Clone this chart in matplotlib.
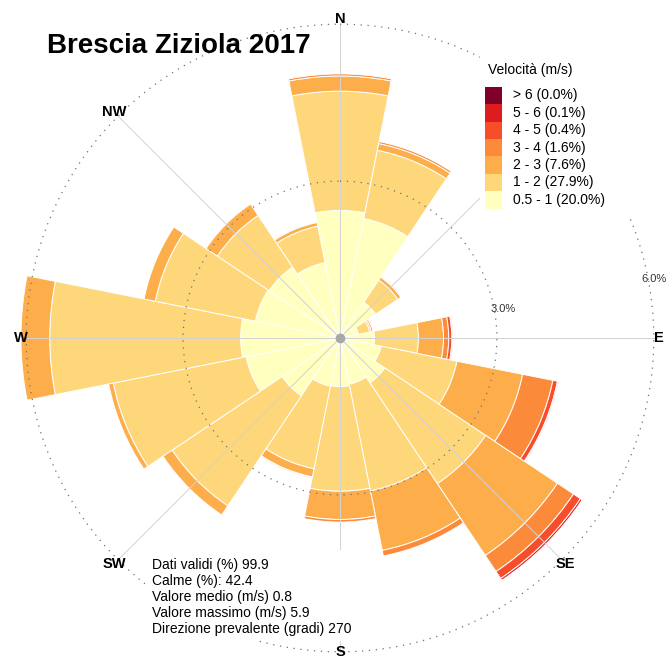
import numpy as np
import matplotlib.pyplot as plt
from matplotlib.patches import Rectangle

plt.rcParams['font.family'] = ['Liberation Sans', 'DejaVu Sans']

W_PX, H_PX = 671, 659

# 16 sectori di direzione (gradi dal nord, senso orario)
directions = ['N', 'NNE', 'NE', 'ENE', 'E', 'ESE', 'SE', 'SSE',
              'S', 'SSW', 'SW', 'WSW', 'W', 'WNW', 'NW', 'NNW']
dir_deg = np.arange(16) * 22.5

speed_bins = ['0.5 - 1', '1 - 2', '2 - 3', '3 - 4', '4 - 5', '5 - 6', '> 6']
bin_totals = [20.0, 27.9, 7.6, 1.6, 0.4, 0.1, 0.0]
bin_colors = ['#FFFFBF', '#FDD77A', '#FDAE4A', '#FB8A3A', '#F64D2B', '#DE1B1D', '#7F0028']

# frequenze (%) per classe di velocita', una voce per settore
freq_05_1 = [2.44, 2.33, 0.82, 0.36, 0.66, 0.80, 1.03, 0.90,
             0.93, 0.94, 1.33, 1.83, 1.90, 1.65, 1.63, 1.47]
freq_1_2 = [2.28, 1.33, 0.51, 0.22, 0.84, 1.48, 2.32, 2.08,
            2.00, 1.61, 2.53, 2.59, 3.65, 1.95, 1.19, 0.71]
freq_2_3 = [0.29, 0.13, 0.07, 0.03, 0.48, 1.28, 1.65, 1.16,
            0.54, 0.16, 0.21, 0.09, 0.55, 0.22, 0.26, 0.07]
freq_3_4 = [0.04, 0.04, 0.02, 0.03, 0.10, 0.59, 0.37, 0.11,
            0.05, 0.02, 0.00, 0.00, 0.00, 0.00, 0.00, 0.00]
freq_4_5 = [0.00, 0.00, 0.00, 0.00, 0.06, 0.09, 0.16, 0.00,
            0.00, 0.00, 0.00, 0.00, 0.00, 0.00, 0.00, 0.00]
freq_5_6 = [0.00, 0.00, 0.00, 0.00, 0.02, 0.02, 0.04, 0.00,
            0.00, 0.00, 0.00, 0.00, 0.00, 0.00, 0.00, 0.00]
freq_gt6 = [0.0] * 16

stats_labels = ['Dati validi (%)', 'Calme (%):', 'Valore medio (m/s)',
                'Valore massimo (m/s)', 'Direzione prevalente (gradi)']
stats_values = ['99.9', '42.4', '0.8', '5.9', '270']

# etichette cardinali visibili (NE resta sotto la legenda)
compass_labels = ['N', 'E', 'SE', 'S', 'SW', 'W', 'NW']

freqs = [freq_05_1, freq_1_2, freq_2_3, freq_3_4, freq_4_5, freq_5_6, freq_gt6]


def fx(px):
    return px / W_PX


def fy(py):
    return 1 - py / H_PX


fig = plt.figure(figsize=(W_PX / 100, H_PX / 100), dpi=100)

# rosa dei venti in assi polari
r_max = 6.5
rad_px = r_max * 52.3
cx, cy = 340, 338
ax = fig.add_axes([fx(cx - rad_px), fy(cy + rad_px), 2 * rad_px / W_PX, 2 * rad_px / H_PX],
                  projection='polar')
ax.set_theta_zero_location('N')
ax.set_theta_direction(-1)
ax.set_ylim(0, r_max)
ax.set_axis_off()

theta = np.deg2rad(dir_deg)
width = np.deg2rad(22.5)
bottom = np.zeros(16)
for vals, col in zip(freqs, bin_colors):
    vals = np.array(vals)
    m = vals > 0
    ax.bar(theta[m], vals[m], width=width, bottom=bottom[m], color=col,
           edgecolor='white', linewidth=0.7, zorder=2)
    bottom += vals

# linee radiali e cerchi di riferimento
for d in range(0, 360, 45):
    ax.plot([np.deg2rad(d)] * 2, [0, 6.0], color='#d2d2d2', lw=0.7, zorder=3)
circ = np.linspace(0, 2 * np.pi, 720)
for r in (3, 6):
    ax.plot(circ, np.full_like(circ, r), color='#707070', lw=0.9,
            ls=(0, (1, 4.5)), zorder=3)
    # etichetta dell'anello, tenuta dentro il bordo della figura
    ax.text(np.deg2rad(79), r - 0.02 * r, f'{r:.1f}%', ha='left', va='center',
            fontsize=8, color='#333333', zorder=4)
ax.plot(0, 0, 'o', ms=6, color='#a8a8a8', zorder=5)

for lab in compass_labels:
    r_lab = 6.0 if lab == 'S' else 6.1
    ax.text(np.deg2rad(directions.index(lab) * 22.5), r_lab, lab, ha='center', va='center',
            fontsize=10.5, fontweight='bold', zorder=4)

fig.text(fx(47), fy(53), 'Brescia Ziziola 2017', fontsize=20, fontweight='bold',
         ha='left', va='baseline')

# legenda
fig.add_artist(Rectangle((fx(480), fy(215)), fx(160), 165 / H_PX,
                         facecolor='white', edgecolor='none', zorder=5))
fig.text(fx(488), fy(70), 'Velocità (m/s)', fontsize=10, ha='left', va='center', zorder=6)
row_h = 17.4
for i, (lab, tot, col) in enumerate(zip(speed_bins[::-1], bin_totals[::-1], bin_colors[::-1])):
    top = 86.7 + i * row_h
    fig.add_artist(Rectangle((fx(485), fy(top + row_h)), fx(17), row_h / H_PX,
                             facecolor=col, edgecolor='none', zorder=6))
    fig.text(fx(513), fy(top + row_h / 2), f'{lab} ({tot:.1f}%)', fontsize=10,
             ha='left', va='center', zorder=6)

# statistiche
fig.add_artist(Rectangle((fx(145), fy(641)), fx(215), 91 / H_PX,
                         facecolor='white', edgecolor='none', zorder=5))
for i, (lab, val) in enumerate(zip(stats_labels, stats_values)):
    fig.text(fx(151.7), fy(565 + i * 16.1), f'{lab} {val}', fontsize=10,
             ha='left', va='center', zorder=6)

fig.savefig('out.png', dpi=100, facecolor='white')
